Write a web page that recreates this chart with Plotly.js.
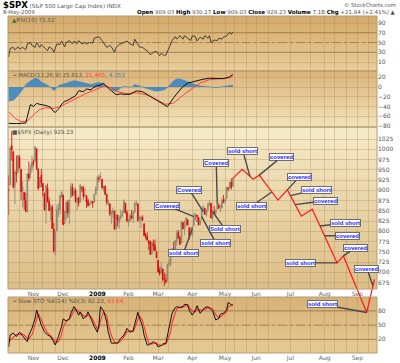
<!DOCTYPE html>
<html><head><meta charset="utf-8">
<script src="https://cdn.plot.ly/plotly-3.0.1.min.js"></script>
<style>html,body{margin:0;padding:0;background:#fff}#chart{width:400px;height:363px}</style>
</head><body><div id="chart"></div>
<script>
// ---------- DATA ----------
const tradeDates = ['2008-10-10','2008-10-13','2008-10-14','2008-10-15','2008-10-16','2008-10-17','2008-10-20','2008-10-21','2008-10-22','2008-10-23','2008-10-24','2008-10-27','2008-10-28','2008-10-29','2008-10-30','2008-10-31',
'2008-11-03','2008-11-04','2008-11-05','2008-11-06','2008-11-07','2008-11-10','2008-11-11','2008-11-12','2008-11-13','2008-11-14','2008-11-17','2008-11-18','2008-11-19','2008-11-20','2008-11-21','2008-11-24','2008-11-25','2008-11-26','2008-11-28',
'2008-12-01','2008-12-02','2008-12-03','2008-12-04','2008-12-05','2008-12-08','2008-12-09','2008-12-10','2008-12-11','2008-12-12','2008-12-15','2008-12-16','2008-12-17','2008-12-18','2008-12-19','2008-12-22','2008-12-23','2008-12-24','2008-12-26','2008-12-29','2008-12-30','2008-12-31',
'2009-01-02','2009-01-05','2009-01-06','2009-01-07','2009-01-08','2009-01-09','2009-01-12','2009-01-13','2009-01-14','2009-01-15','2009-01-16','2009-01-20','2009-01-21','2009-01-22','2009-01-23','2009-01-26','2009-01-27','2009-01-28','2009-01-29','2009-01-30',
'2009-02-02','2009-02-03','2009-02-04','2009-02-05','2009-02-06','2009-02-09','2009-02-10','2009-02-11','2009-02-12','2009-02-13','2009-02-17','2009-02-18','2009-02-19','2009-02-20','2009-02-23','2009-02-24','2009-02-25','2009-02-26','2009-02-27',
'2009-03-02','2009-03-03','2009-03-04','2009-03-05','2009-03-06','2009-03-09','2009-03-10','2009-03-11','2009-03-12','2009-03-13','2009-03-16','2009-03-17','2009-03-18','2009-03-19','2009-03-20','2009-03-23','2009-03-24','2009-03-25','2009-03-26','2009-03-27','2009-03-30','2009-03-31',
'2009-04-01','2009-04-02','2009-04-03','2009-04-06','2009-04-07','2009-04-08','2009-04-09','2009-04-13','2009-04-14','2009-04-15','2009-04-16','2009-04-17','2009-04-20','2009-04-21','2009-04-22','2009-04-23','2009-04-24','2009-04-27','2009-04-28','2009-04-29','2009-04-30',
'2009-05-01','2009-05-04','2009-05-05','2009-05-06','2009-05-07','2009-05-08'];

const openP = [902.3,912.8,1009.0,994.6,909.5,942.3,943.5,980.4,951.7,899.1,895.2,874.3,848.9,939.5,939.4,953.1,
968.7,971.3,1001.8,952.4,907.4,936.8,917.2,893.4,853.1,904.4,873.2,852.3,859.0,805.9,755.8,801.2,853.4,852.9,886.9,
888.6,817.9,843.6,869.8,844.4,882.7,906.5,892.2,898.4,871.8,881.1,871.5,908.2,905.0,887.0,887.2,874.3,863.9,869.5,872.4,870.6,890.6,
903.0,929.2,931.2,927.5,905.7,909.9,890.4,869.8,867.3,842.0,844.5,849.6,806.8,839.7,822.2,832.5,837.3,845.7,868.9,845.7,
823.1,825.7,837.8,831.8,846.1,868.2,866.9,827.4,829.9,834.0,818.6,791.1,787.9,775.9,773.3,744.7,770.6,765.8,749.9,
729.6,704.4,698.6,708.3,684.0,680.8,679.3,719.6,720.9,752.0,758.8,753.9,776.0,797.9,784.6,772.3,820.6,806.8,814.1,828.7,809.1,790.9,
793.6,814.5,835.1,839.8,834.1,816.8,829.3,855.3,856.2,839.4,854.5,865.2,868.3,831.3,847.3,844.6,853.9,862.8,854.5,856.9,876.6,
872.7,879.2,906.1,904.0,919.6,909.03];
const highP = [936.4,1006.9,1044.3,994.6,947.7,984.6,985.4,985.4,951.7,922.8,896.3,893.8,940.5,970.0,963.2,984.4,
975.6,1007.5,1001.8,952.4,931.5,952.0,917.2,893.4,913.0,916.9,882.3,865.9,864.6,820.5,801.2,865.6,868.9,887.7,896.3,
888.6,850.5,873.1,875.6,879.4,918.6,916.3,908.3,904.6,883.2,884.6,914.7,908.2,911.0,905.5,887.4,880.4,869.8,873.7,873.7,891.1,910.3,
934.7,936.6,943.9,927.5,910.0,911.9,890.4,877.0,867.3,851.6,858.1,849.6,841.7,839.7,838.6,852.5,850.5,877.9,868.9,851.7,
830.8,842.6,851.9,850.6,870.8,875.0,868.1,838.2,835.5,839.4,818.6,796.2,797.6,778.7,777.9,775.5,780.1,779.4,751.3,
729.6,711.7,724.1,708.3,699.1,695.3,719.6,731.9,752.6,758.3,774.5,778.1,803.0,803.2,788.9,823.4,823.7,826.3,833.0,828.7,809.1,810.5,
813.6,845.6,842.5,839.8,834.1,828.4,856.9,864.3,856.2,852.9,870.4,875.6,868.3,850.1,861.8,852.9,871.8,868.8,864.5,882.1,888.7,
880.5,907.9,907.7,920.3,929.6,930.17];
const lowP = [839.8,912.8,972.1,904.0,865.8,918.7,943.5,952.5,875.8,858.4,852.9,846.8,845.3,922.3,928.9,944.6,
958.8,971.3,949.9,899.7,906.4,907.5,884.9,850.5,818.7,869.9,849.0,826.8,806.2,747.8,741.0,801.2,835.0,841.4,881.2,
815.7,817.9,827.6,833.6,818.4,882.7,885.4,885.5,868.7,851.4,860.8,871.5,895.9,877.4,883.0,857.1,860.1,861.4,866.5,857.1,870.6,889.4,
899.4,919.5,927.3,902.4,896.8,888.3,864.3,862.0,836.9,817.0,830.7,804.5,804.3,811.3,806.1,827.7,835.4,845.7,844.0,821.7,
812.9,822.0,829.2,819.9,845.4,861.7,823.0,822.1,808.1,825.2,789.2,780.4,777.0,754.3,742.4,744.7,752.9,751.8,734.5,
699.7,692.3,698.6,677.9,666.8,672.9,679.3,713.9,714.8,742.5,753.4,749.9,765.6,781.8,766.2,772.3,805.5,791.4,814.1,813.4,779.8,790.9,
783.3,814.5,826.7,822.8,814.5,814.8,829.3,845.4,840.3,835.6,847.0,860.9,832.4,826.8,840.6,835.6,853.9,854.7,847.1,856.9,868.5,
866.1,879.2,897.3,904.0,901.4,909.03];
const closeP = [899.2,1003.4,998.0,907.8,946.4,940.6,985.4,955.1,896.8,908.1,876.8,848.9,940.5,930.1,954.1,968.8,
966.3,1005.8,952.8,904.9,931.0,919.2,899.0,852.3,911.3,873.3,850.8,859.1,806.6,752.4,800.0,851.8,857.4,887.7,896.2,
816.2,848.8,870.7,845.2,876.1,909.7,888.7,899.2,873.6,879.7,868.6,913.2,904.4,885.3,887.9,871.6,863.2,868.2,872.8,869.4,890.6,903.3,
931.8,927.5,934.7,906.7,909.7,890.4,870.3,871.8,842.6,843.7,850.1,805.2,840.2,827.5,832.0,836.6,845.7,874.1,845.1,825.9,
825.4,838.5,832.2,845.9,868.6,869.9,827.2,833.7,835.2,826.8,789.2,788.4,778.9,770.1,743.3,773.1,764.9,752.8,735.1,
700.8,696.3,712.9,682.6,683.4,676.5,719.6,721.4,750.7,756.6,753.9,778.1,794.4,784.0,768.5,822.9,806.1,813.9,832.9,815.9,787.5,797.9,
811.1,834.4,842.5,835.5,815.6,825.2,856.6,858.7,841.5,852.1,865.3,869.6,832.4,850.1,843.6,851.9,866.2,857.5,855.2,873.6,872.8,
877.5,907.2,903.8,919.5,907.4,929.23];

// projected path (red line)
const projDates = ['2009-05-08','2009-05-18','2009-05-28','2009-06-03','2009-06-19','2009-06-29','2009-07-13','2009-07-22','2009-08-13','2009-08-19','2009-09-10','2009-09-17'];
const projPrice = [929.23,951,927,937,876,901,837,854,723,740,602,683];

// RSI(10) readings: trading-day index -> value
const rsiDay = [0,1,3,4,6,7,9,11,12,14,15,17,18,20,21,23,25,26,28,29,31,33,34,36,37,39,41,42,44,45,47,49,50,52,54,55,57,58,60,62,63,65,66,68,69,71,72,74,76,78,80,81,83,84,86,88,90,91,93,95,97,98,100,101,103,104,105,107,108,110,112,113,115,117,118,120,121,123,125,126,128,129,130,132,134,135,137,138,140,142,143,144];
const rsiVal = [20,38,40,35,41,37,40,35,47,50,44,40,50,40,46,40,33,41,37,30,47,46,53,41,50,54,47,53,48,54,47,50,47,50,49,59,62,62,54,46,40,44,41,30,40,46,47,50,53,47,44,57,46,41,40,35,30,25,30,32,23,28,23,24,40,47,54,62,57,64,57,64,59,54,64,62,53,61,57,64,59,64,50,55,54,59,57,61,64,71,67,71.52];

// MACD(12,26,9)
const macdDay = [0,5,11,12,13,14,16,18,20,24,27,29,30,33,34,36,37,39,43,45,48,50,53,54,57,59,61,63,65,67,69,72,74,78,82,86,93,97,102,106,111,115,121,125,129,134,138,142,144];
const macdVal = [-74.5,-75,-74,-62,-45,-36,-40,-33.5,-35.5,-38,-41.6,-50.6,-52,-41.6,-35.5,-29,-28.7,-24.6,-18,-7.6,-9.6,-4,-6,-2,2.7,4,7.5,0.6,-5,-11,-15.8,-14,-15,-15,-8,-9.6,-23,-31.5,-40.4,-22,-2,8,13,16,18,17,17,21,25.813];
const sigDay = [0,4,8,12,16,20,24,29,33,37,44,50,54,59,62,66,70,76,82,89,95,101,106,112,118,123,129,136,142,144];
const sigVal = [-50.6,-64,-71,-70,-57,-46,-42.5,-43.7,-40,-33.5,-23,-13,-8,-1.4,3,-2,-9.6,-13.7,-11.7,-16.4,-26.7,-35.5,-33,-17,-3,8,15,17,19,21.46];
const histDay = [0,3,5,7,9,10,11,13,15,17,19,21,23,25,27,29,30,32,34,36,38,40,42,44,46,49,51,53,55,57,59,61,62,65,67,69,71,72,74,76,79,81,83,85,88,91,94,97,100,102,104,106,108,110,112,114,117,119,121,123,126,129,133,136,139,142,144];
const histVal = [-29,-27,-21,-14,-5.5,0,5,10,14.4,18,16.4,10,7,3,0,-7.6,-5,3,5,7.6,10,11.7,13,11.7,10,7.6,6.6,5,6.6,8.8,8.8,6.6,3,-1,-7.6,-8.8,-5,-1,1,0,0,5,3,0,-3.5,-5.5,-8,-8,-5.5,-1,6.6,13,16.4,16.4,14.4,11.7,8.2,5.5,3.5,2,1.4,0,-1,0,1.4,4,4.353];

// Slow STO %K(14) %D(3)
const stoDay = [0,1,3,5,7,8,10,12,13,15,17,18,19,21,23,25,27,29,30,32,34,35,37,39,40,42,43,45,46,48,50,51,53,55,57,58,59,61,63,64,66,68,70,72,74,75,76,78,80,81,83,84,86,87,89,90,92,93,95,96,98,99,101,102,104,105,107,108,110,112,113,115,116,118,120,121,123,125,126,128,129,131,133,135,136,138,140,141,143,144];
const stoK = [4,29,33,26,35,31,24,15,29,43,64,82,71,50,36,29,26,12,8,26,47,63,59,63,75,89,84,71,78,63,70,78,61,47,35,50,89,80,57,35,12,12,12,22,29,35,43,35,38,52,77,66,47,29,8,8,12,15,10,4,7,10,12,29,57,75,87,89,87,89,94,93,82,71,82,91,75,84,87,89,86,80,61,64,73,75,82,98,93,92.23];
const stoD = [15,18,25,30,31,32,29,22,22,30,50,65,74,62,45,34,28,20,14,15,30,45,58,62,68,80,85,78,76,70,68,72,68,55,42,44,60,78,70,52,28,14,12,16,24,30,36,38,37,44,62,70,60,45,22,12,10,12,12,9,7,8,10,17,35,55,75,85,88,88,90,92,88,80,78,83,82,82,84,87,87,84,72,66,67,72,78,88,92,93.64];

// trade notes
const noteText = ['sold short','covered','covered','sold short','covered','sold short','sold short','covered','covered','sold short','covered','sold short','Covered','Covered','Covered','Sold short','sold short','sold short'];
const noteDate = ['2009-05-26','2009-06-03','2009-06-29','2009-07-01','2009-07-07','2009-06-15','2009-07-29','2009-08-03','2009-08-19','2009-08-13','2009-09-16','2009-09-10','2009-04-24','2009-04-13','2009-04-02','2009-04-21','2009-04-09','2009-04-01'];
const notePrice = [934,937,901,887,865,896,813,789,740,723,667,602,868,848,836,848,836,807];

// axis ticks
const monthTickDates = ['2008-11-03','2008-12-01','2009-01-02','2009-02-02','2009-03-02','2009-04-01','2009-05-01','2009-06-01','2009-07-01','2009-08-03','2009-09-01'];
const monthTickText = ['Nov','Dec','<b style="color:#000">2009</b>','Feb','Mar','Apr','May','Jun','Jul','Aug','Sep'];
const priceTicks = [675,700,725,750,775,800,825,850,875,900,925,950,975,1000,1025];
const rsiTicks = [10,30,50,70,90];
const macdTicks = [20,0,-20,-40,-60,-80];
const stoTicks = [20,50,80];
const holidays = ['2008-11-27','2008-12-25','2009-01-01','2009-01-19','2009-02-16','2009-04-10','2009-05-25','2009-07-03','2009-09-07'];

// ---------- LAYOUT / STYLE ----------
const noteAx = [-7,22,12,26,30,-20,25,23,12,-37,-6,-44,-1,-14,-27,12,14,-9];
const noteAy = [-25,-18,-13,-6,-4,14,-3,0,-8,0,-17,-8,-40,-22,-11,17,26,25];

const W=400,H=363,ML=8,MR=23,MT=16,MB=10;
const PH=H-MT-MB, PW=W-ML-MR;
const fy = py => (H-MB-py)/PH;
const fx = px => (px-ML)/PW;
const dRsi=[fy(71),1], dMacd=[fy(127),fy(71)], dPrice=[fy(289),fy(127)], dSto=[0,fy(297)];
const dProj=[0,fy(127)];
const xRange=['2008-10-09 14:24','2009-09-18 14:24'];
const gridC='rgba(165,130,80,0.30)';
const lineC='rgba(150,115,65,0.75)';

const at = i => tradeDates[i];
const pad = n => (n<10?'0':'')+n;
const gridDates=[];
for (let m=0;m<12;m++){
  const y=2008+Math.floor((9+m)/12), mo=(9+m)%12+1;
  [11,21].forEach(d=>gridDates.push(y+'-'+pad(mo)+'-'+pad(d)));
}

const rb=[{bounds:['sat','mon']},{values:holidays}];
const baseX = {type:'date', range:xRange, rangebreaks:rb, tickmode:'array', tickvals:monthTickDates, ticktext:monthTickText,
  ticks:'', showgrid:true, gridcolor:gridC, gridwidth:1, zeroline:false, showline:false,
  minor:{tickmode:'array', tickvals:gridDates, showgrid:true, gridcolor:gridC, ticks:''},
  tickfont:{size:6,color:'#666',family:'DejaVu Sans'}, fixedrange:true, domain:[0,1]};
const baseY = {side:'right', ticks:'', showgrid:true, gridcolor:gridC, zeroline:false, showline:false,
  tickmode:'array', tickfont:{size:6,color:'#555',family:'DejaVu Sans'}, fixedrange:true};

function grad(top,bottom,d){
  const svg='<svg xmlns="http://www.w3.org/2000/svg" width="10" height="100" preserveAspectRatio="none"><defs><linearGradient id="g" x1="0" y1="0" x2="0" y2="1"><stop offset="0" stop-color="'+top+'"/><stop offset="1" stop-color="'+bottom+'"/></linearGradient></defs><rect width="10" height="100" fill="url(#g)"/></svg>';
  return {source:'data:image/svg+xml;charset=utf-8,'+encodeURIComponent(svg), xref:'paper', yref:'paper',
    x:0, y:d[1], sizex:1, sizey:d[1]-d[0], sizing:'stretch', xanchor:'left', yanchor:'top', layer:'below'};
}

const traces = [
  {type:'candlestick', x:tradeDates, open:openP, high:highP, low:lowP, close:closeP, xaxis:'x2', yaxis:'y3',
   increasing:{line:{color:'#878170',width:0.8}, fillcolor:'#aaa38c'},
   decreasing:{line:{color:'#dc0000',width:0.8}, fillcolor:'#e60000'},
   whiskerwidth:0, hoverinfo:'skip', showlegend:false},
  {type:'scatter', mode:'lines', x:projDates, y:projPrice, xaxis:'x3', yaxis:'y5',
   line:{color:'#ff1a1a', width:1.2}, hoverinfo:'skip', showlegend:false},
  {type:'scatter', mode:'lines', x:rsiDay.map(at), y:rsiVal, xaxis:'x', yaxis:'y',
   line:{color:'#333', width:0.9}, hoverinfo:'skip', showlegend:false},
  {type:'scatter', mode:'lines', x:histDay.map(at), y:histVal, xaxis:'x', yaxis:'y2', fill:'tozeroy',
   fillcolor:'rgba(50,130,200,0.85)', line:{color:'#3a85c6', width:0.6}, hoverinfo:'skip', showlegend:false},
  {type:'scatter', mode:'lines', x:sigDay.map(at), y:sigVal, xaxis:'x', yaxis:'y2',
   line:{color:'#ff4040', width:1}, hoverinfo:'skip', showlegend:false},
  {type:'scatter', mode:'lines', x:macdDay.map(at), y:macdVal, xaxis:'x', yaxis:'y2',
   line:{color:'#111', width:1}, hoverinfo:'skip', showlegend:false},
  {type:'scatter', mode:'lines', x:stoDay.map(at), y:stoD, xaxis:'x', yaxis:'y4',
   line:{color:'#ff3030', width:1.1}, hoverinfo:'skip', showlegend:false},
  {type:'scatter', mode:'lines', x:stoDay.map(at), y:stoK, xaxis:'x', yaxis:'y4',
   line:{color:'#111', width:1}, hoverinfo:'skip', showlegend:false}
];

const shapes = [];
[dRsi,dMacd,dPrice,dSto].forEach(d=>shapes.push({type:'rect', xref:'paper', yref:'paper', x0:0, x1:1, y0:d[0], y1:d[1],
  line:{color:'#b49c72', width:1}, layer:'above'}));
function hline(yref,v,dash){shapes.push({type:'line', xref:'paper', yref:yref, x0:0, x1:1, y0:v, y1:v, line:{color:lineC, width:1, dash:dash}, layer:'below'});}
hline('y',30,'solid'); hline('y',70,'solid'); hline('y',50,'dashdot');
hline('y4',20,'solid'); hline('y4',80,'solid'); hline('y4',50,'dashdot');

const annotations = [];
const nfont = {family:'Liberation Sans, Arial', size:6, color:'#1a1aff'};
noteText.forEach((t,i)=>{
  annotations.push({x:noteDate[i], y:notePrice[i], xref:'x3', yref:'y5', text:'<b>'+t+'</b>', showarrow:true,
    ax:noteAx[i], ay:noteAy[i], arrowcolor:'#4a4a4a', arrowwidth:1.4, arrowhead:0, font:nfont,
    bgcolor:'#ffffff', bordercolor:'#6e6e6e', borderwidth:1, borderpad:0});
});

const lf = {family:'DejaVu Sans', size:5.6, color:'#555'};
function ptxt(px,py,text,anchor,font){annotations.push({xref:'paper', yref:'paper', x:fx(px), y:fy(py), text:text,
  showarrow:false, xanchor:anchor, yanchor:'middle', font:font||lf});}
ptxt(1,5,'<span style="font-size:8.5px;color:#000"><b>$SPX</b></span> (S&amp;P 500 Large Cap Index) INDX','left');
ptxt(1,12,'8-May-2009','left',{...lf,size:5.3});
ptxt(398,5,'© StockCharts.com','right',{...lf,size:5.3});
ptxt(398,12,'<b style="color:#000">Open</b> 909.03 <b style="color:#000">High</b> 930.17 <b style="color:#000">Low</b> 909.03 <b style="color:#000">Close</b> 929.23 <b style="color:#000">Volume</b> 7.1B <b style="color:#000">Chg</b> +21.84 (+2.41%) ▲','right',{...lf,size:5.5});
ptxt(10,20,'<span style="color:#4c6b2a">▲</span>RSI(10) 71.52','left');
ptxt(10,75,'═ MACD(12,26,9) 25.813, <span style="color:#ff4040">21.460</span>, <span style="color:#3a85c6">4.353</span>','left');
ptxt(10,132,'■$SPX (Daily) 929.23','left');
ptxt(10,301,'═ Slow STO %K(14) %D(3) 92.23, <span style="color:#ff4040">93.64</span>','left');

const layout = {
  width:W, height:H, margin:{l:ML, r:MR, t:MT, b:MB, pad:0},
  paper_bgcolor:'#ffffff', plot_bgcolor:'rgba(0,0,0,0)', showlegend:false,
  font:{family:'DejaVu Sans', size:6, color:'#555'},
  xaxis:{...baseX, anchor:'y4'},
  xaxis2:{...baseX, anchor:'y3', rangeslider:{visible:false}},
  xaxis3:{...baseX, anchor:'y5', showgrid:false, showticklabels:false, minor:{showgrid:false}},
  yaxis:{...baseY, anchor:'x', domain:dRsi, range:[-8.4,104.4], tickvals:rsiTicks},
  yaxis2:{...baseY, anchor:'x', domain:dMacd, range:[-82,32.8], tickvals:macdTicks},
  yaxis3:{...baseY, anchor:'x2', domain:dPrice, range:[659.3,1054.4], tickvals:priceTicks},
  yaxis4:{...baseY, anchor:'x', domain:dSto, range:[-8.9,109.4], tickvals:stoTicks},
  yaxis5:{...baseY, anchor:'x3', domain:dProj, range:[503.2,1054.4], showgrid:false, showticklabels:false},
  images:[grad('#d5aa6a','#e9cd9a',dRsi), grad('#dbb47a','#f2e3ba',dMacd), grad('#f5eac8','#dcbe87',dPrice), grad('#d7b277','#e6ca95',dSto)],
  shapes:shapes, annotations:annotations
};
Plotly.newPlot('chart', traces, layout, {staticPlot:true, displayModeBar:false});
</script>
</body></html>
